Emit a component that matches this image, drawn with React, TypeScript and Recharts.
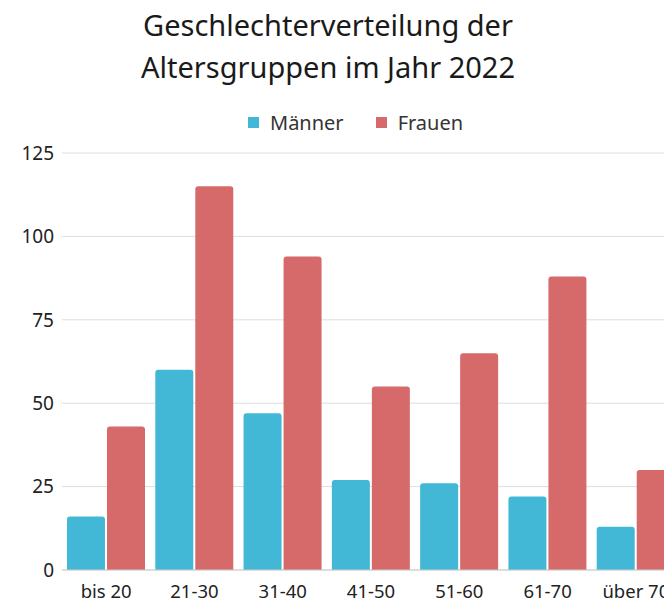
import React from "react";
import { BarChart, Bar, XAxis, YAxis, CartesianGrid } from "recharts";

const categories = ["bis 20", "21-30", "31-40", "41-50", "51-60", "61-70", "über 70"];
const maenner = [16, 60, 47, 27, 26, 22, 13];
const frauen = [43, 115, 94, 55, 65, 88, 30];
const yTicks = [0, 25, 50, 75, 100, 125];
const titleLines = ["Geschlechterverteilung der", "Altersgruppen im Jahr 2022"];

const data = categories.map((c, i) => ({ name: c, Männer: maenner[i], Frauen: frauen[i] }));

const BLUE = "#42B8D6";
const RED = "#D66A6A";
const FONT = "'Noto Sans', 'Open Sans', sans-serif";

export default function App() {
  return (
    <div
      style={{
        position: "relative",
        marginTop: -8,
        width: 664,
        height: 603,
        overflow: "hidden",
        fontFamily: FONT,
      }}
    >
      {titleLines.map((t, i) => (
        <div
          key={i}
          style={{
            position: "absolute",
            left: 0,
            top: 4 + i * 42,
            width: 640,
            textAlign: "center",
            fontSize: 29,
            lineHeight: "41px",
            color: "#1a1a1a",
            whiteSpace: "nowrap",
          }}
        >
          {t}
        </div>
      ))}
      <div
        style={{
          position: "absolute",
          top: 109,
          left: 240,
          display: "flex",
          alignItems: "center",
          fontSize: 20,
          color: "#333",
          whiteSpace: "nowrap",
        }}
      >
        <span style={{ display: "inline-block", width: 11, height: 11, background: BLUE, marginRight: 11 }} />
        <span style={{ marginRight: 32 }}>Männer</span>
        <span style={{ display: "inline-block", width: 11, height: 11, background: RED, marginRight: 11 }} />
        <span>Frauen</span>
      </div>
      <BarChart
        width={690}
        height={603}
        data={data}
        margin={{ top: 153, right: 18, bottom: 3, left: 0 }}
        barCategoryGap={5}
        barGap={2}
      >
        <CartesianGrid vertical={false} stroke="#dddddd" />
        <XAxis
          dataKey="name"
          height={30}
          tickLine={false}
          axisLine={{ stroke: "#cccccc" }}
          tick={{ fontSize: 18.5, fill: "#222", fontFamily: FONT }}
          tickMargin={9}
          interval={0}
        />
        <YAxis
          width={54}
          domain={[0, 125]}
          ticks={yTicks}
          axisLine={false}
          tickLine={false}
          tick={{ fontSize: 19, fill: "#222", fontFamily: FONT }}
        />
        <Bar dataKey="Männer" fill={BLUE} radius={[3, 3, 0, 0]} isAnimationActive={false} />
        <Bar dataKey="Frauen" fill={RED} radius={[3, 3, 0, 0]} isAnimationActive={false} />
      </BarChart>
    </div>
  );
}
